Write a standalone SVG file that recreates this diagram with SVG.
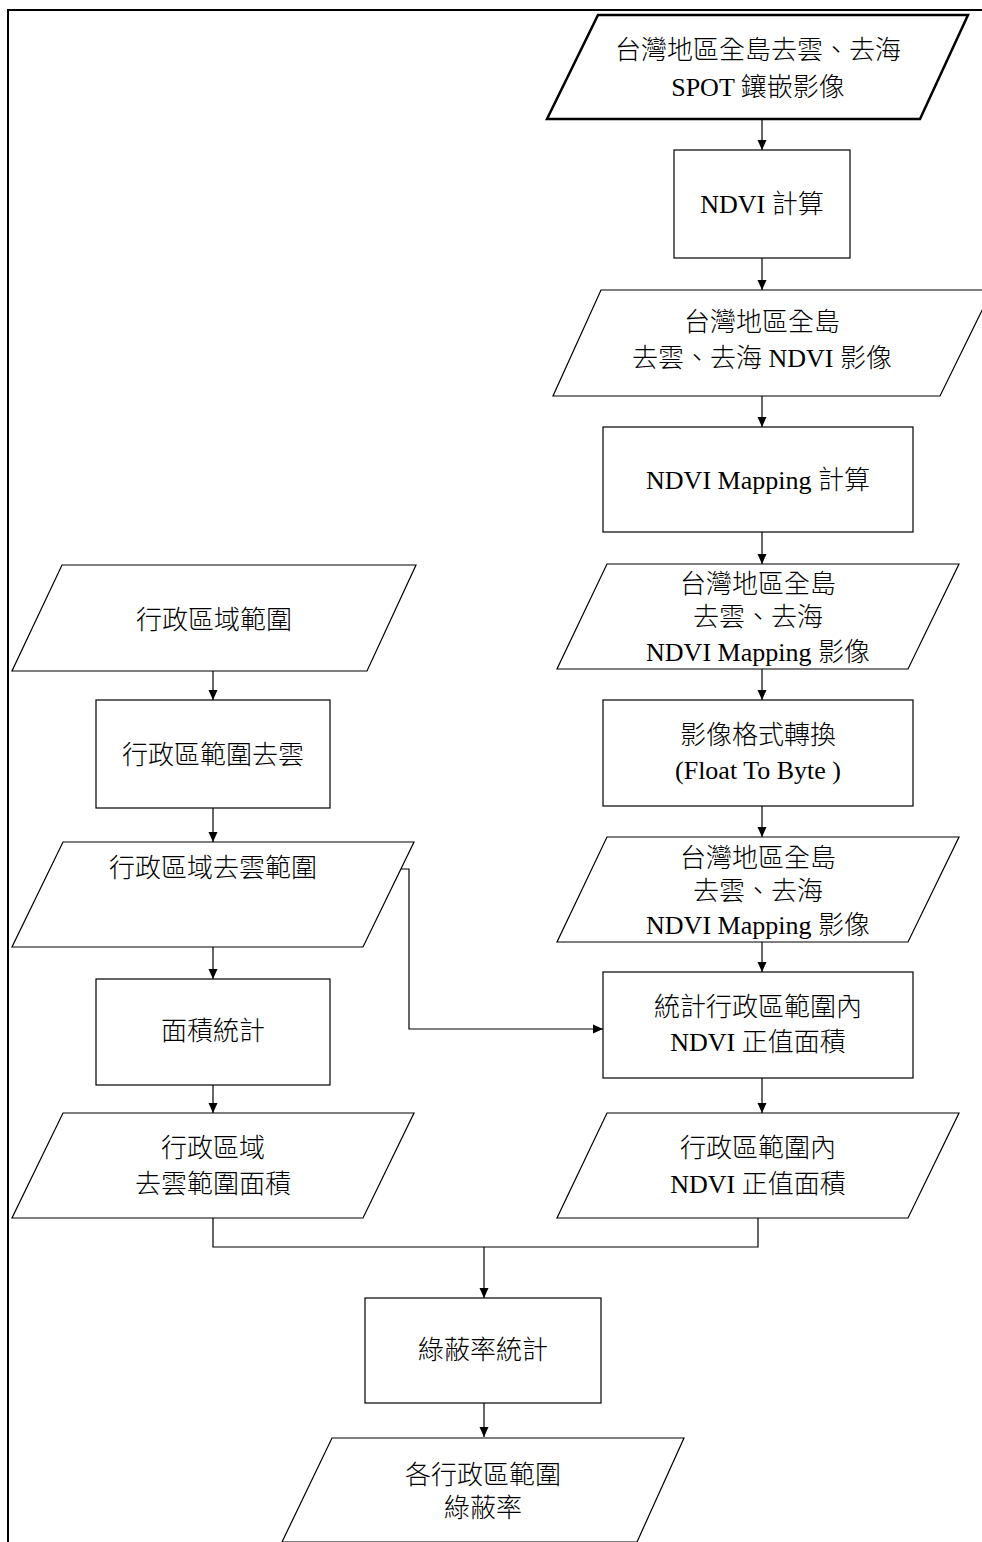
<svg xmlns="http://www.w3.org/2000/svg" width="982" height="1542" viewBox="0 0 982 1542">
<defs>
<marker id="ah" markerWidth="10" markerHeight="10" refX="10" refY="5" orient="auto" markerUnits="userSpaceOnUse">
<path d="M0,0.5 L10,5 L0,9.5 Z" fill="#000"/>
</marker>
<style>
.s{fill:#fff;stroke:#000;stroke-width:1.2}
.thick{fill:#fff;stroke:#000;stroke-width:2.5}
.c{fill:none;stroke:#000;stroke-width:1.2}
.t{font-family:"Liberation Serif","Noto Sans CJK TC",serif;font-size:26px;font-weight:300;fill:#000;text-anchor:middle}
</style>
</defs>
<rect width="982" height="1542" fill="#fff"/>
<path d="M8,1542 L8,10 L982,10" fill="none" stroke="#000" stroke-width="2"/>

<g id="connectors">
<line class="c" x1="762" y1="119" x2="762" y2="150" marker-end="url(#ah)"/>
<line class="c" x1="762" y1="258" x2="762" y2="290" marker-end="url(#ah)"/>
<line class="c" x1="762" y1="396" x2="762" y2="427" marker-end="url(#ah)"/>
<line class="c" x1="762" y1="532" x2="762" y2="564" marker-end="url(#ah)"/>
<line class="c" x1="762" y1="669" x2="762" y2="700" marker-end="url(#ah)"/>
<line class="c" x1="762" y1="806" x2="762" y2="837" marker-end="url(#ah)"/>
<line class="c" x1="762" y1="942" x2="762" y2="972" marker-end="url(#ah)"/>
<line class="c" x1="762" y1="1078" x2="762" y2="1113" marker-end="url(#ah)"/>
<line class="c" x1="213" y1="671" x2="213" y2="700" marker-end="url(#ah)"/>
<line class="c" x1="213" y1="808" x2="213" y2="842" marker-end="url(#ah)"/>
<line class="c" x1="213" y1="947" x2="213" y2="979" marker-end="url(#ah)"/>
<line class="c" x1="213" y1="1085" x2="213" y2="1113" marker-end="url(#ah)"/>
<path class="c" d="M401,869 L409,869 L409,1029 L603,1029" marker-end="url(#ah)"/>
<path class="c" d="M213,1218 L213,1247 L758,1247 L758,1218"/>
<line class="c" x1="484" y1="1247" x2="484" y2="1298" marker-end="url(#ah)"/>
<line class="c" x1="484" y1="1403" x2="484" y2="1437" marker-end="url(#ah)"/>
</g>

<g id="p1">
<polygon class="thick" points="598,15 968,15 920,119 547,119"/>
<text class="t" x="758" y="59">台灣地區全島去雲、去海</text>
<text class="t" x="758" y="96">SPOT 鑲嵌影像</text>
</g>
<g id="b1">
<rect class="s" x="674" y="150" width="176" height="108"/>
<text class="t" x="762" y="213">NDVI 計算</text>
</g>
<g id="p2">
<polygon class="s" points="601,290 992,290 940,396 553,396"/>
<text class="t" x="762" y="331">台灣地區全島</text>
<text class="t" x="762" y="367">去雲、去海 NDVI 影像</text>
</g>
<g id="b2">
<rect class="s" x="603" y="427" width="310" height="105"/>
<text class="t" x="758" y="489">NDVI Mapping 計算</text>
</g>
<g id="p3">
<polygon class="s" points="607,564 959,564 908,669 557,669"/>
<text class="t" x="758" y="593">台灣地區全島</text>
<text class="t" x="758" y="626">去雲、去海</text>
<text class="t" x="758" y="661">NDVI Mapping 影像</text>
</g>
<g id="b3">
<rect class="s" x="603" y="700" width="310" height="106"/>
<text class="t" x="758" y="744">影像格式轉換</text>
<text class="t" x="758" y="779">(Float To Byte )</text>
</g>
<g id="p4">
<polygon class="s" points="607,837 959,837 908,942 557,942"/>
<text class="t" x="758" y="867">台灣地區全島</text>
<text class="t" x="758" y="900">去雲、去海</text>
<text class="t" x="758" y="934">NDVI Mapping 影像</text>
</g>
<g id="b4">
<rect class="s" x="603" y="972" width="310" height="106"/>
<text class="t" x="758" y="1016">統計行政區範圍內</text>
<text class="t" x="758" y="1051">NDVI 正值面積</text>
</g>
<g id="p5">
<polygon class="s" points="607,1113 959,1113 908,1218 557,1218"/>
<text class="t" x="758" y="1157">行政區範圍內</text>
<text class="t" x="758" y="1193">NDVI 正值面積</text>
</g>

<g id="l1">
<polygon class="s" points="62,565 416,565 367,671 12,671"/>
<text class="t" x="214" y="629">行政區域範圍</text>
</g>
<g id="lb1">
<rect class="s" x="96" y="700" width="234" height="108"/>
<text class="t" x="213" y="764">行政區範圍去雲</text>
</g>
<g id="l2">
<polygon class="s" points="63,842 414,842 363,947 12,947"/>
<text class="t" x="213" y="877">行政區域去雲範圍</text>
</g>
<g id="lb2">
<rect class="s" x="96" y="979" width="234" height="106"/>
<text class="t" x="213" y="1040">面積統計</text>
</g>
<g id="l3">
<polygon class="s" points="63,1113 414,1113 363,1218 12,1218"/>
<text class="t" x="213" y="1157">行政區域</text>
<text class="t" x="213" y="1193">去雲範圍面積</text>
</g>

<g id="cb">
<rect class="s" x="365" y="1298" width="236" height="105"/>
<text class="t" x="483" y="1359">綠蔽率統計</text>
</g>
<g id="pf">
<polygon class="s" points="332,1438 684,1438 637,1542 282,1542"/>
<text class="t" x="483" y="1484">各行政區範圍</text>
<text class="t" x="483" y="1517">綠蔽率</text>
</g>
</svg>
